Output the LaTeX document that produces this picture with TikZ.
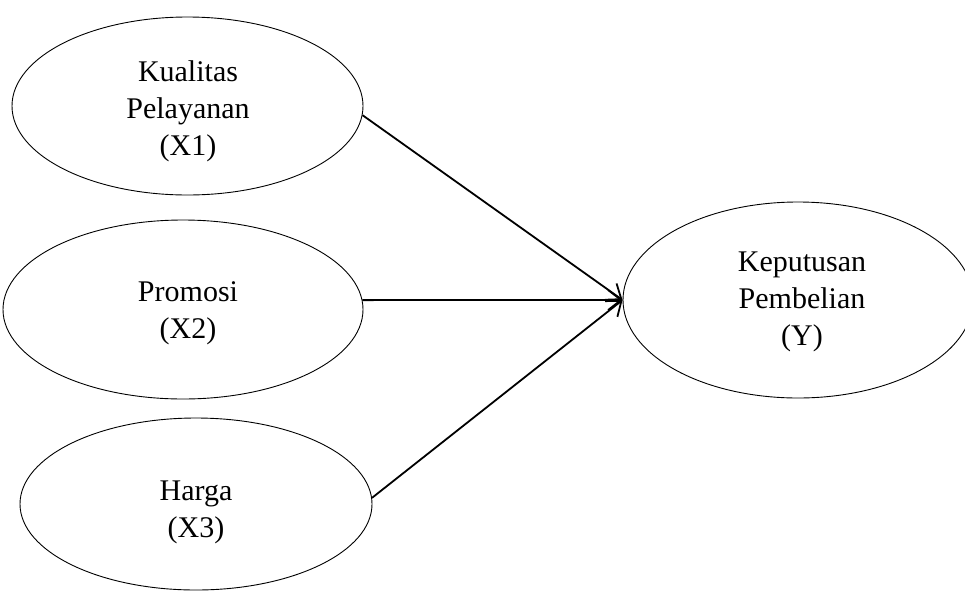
\documentclass[tikz,border=0pt]{standalone}
\usepackage{fontspec}
\setmainfont{Liberation Serif}
\usetikzlibrary{shapes.geometric,arrows.meta}
\begin{document}
\begin{tikzpicture}[x=1pt,y=-1pt,
  oval/.style={draw,ellipse,line width=0.9pt,inner sep=0pt},
  lbl/.style={align=center,font=\fontsize{30}{37}\selectfont},
  conn/.style={line width=1.8pt,-{Straight Barb[length=13pt,width=20pt,line width=1.8pt]}}]
\useasboundingbox (0,0) rectangle (965,592);
\node[oval,minimum width=351pt,minimum height=178pt] (x1) at (187.5,106) {};
\node[oval,minimum width=360pt,minimum height=179pt] (x2) at (183,309.5) {};
\node[oval,minimum width=352pt,minimum height=172pt] (x3) at (196,504) {};
\node[oval,minimum width=350pt,minimum height=196pt] (y) at (798,300) {};
\node[lbl] (t1) at (188,111) {Kualitas\\Pelayanan\\(X1)};
\node[lbl] (t2) at (188,313) {Promosi\\(X2)};
\node[lbl] (t3) at (196,512) {Harga\\(X3)};
\node[lbl] (ty) at (802,302) {Keputusan\\Pembelian\\(Y)};
\draw[conn] (x1.-3) -- (y.west);
\draw[conn] (x2.3) -- (y.west);
\draw[conn] (x3.2.3) -- (y.west);
\end{tikzpicture}
\end{document}
